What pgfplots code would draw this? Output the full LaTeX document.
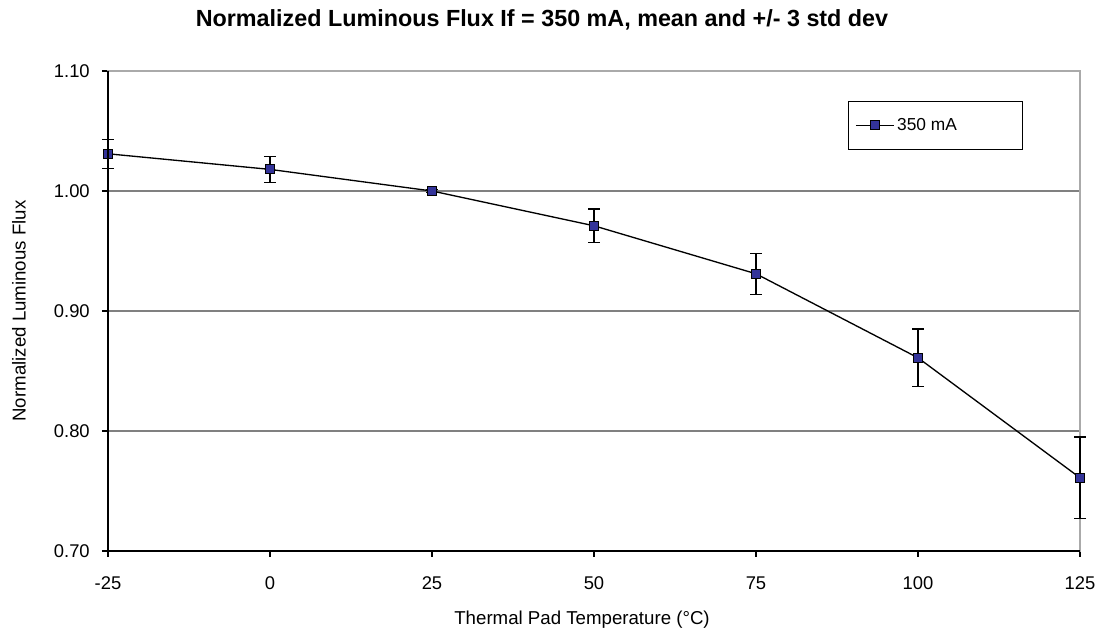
\documentclass[border=0pt]{standalone}
\usepackage{pgfplots}
\pgfplotsset{compat=1.18}
\usepackage{fontspec}
\setmainfont{Liberation Sans}
\definecolor{markblue}{RGB}{51,51,153}
\definecolor{gridgray}{RGB}{128,128,128}
\definecolor{framegray}{RGB}{170,170,170}
\begin{document}
\begin{tikzpicture}
\path[use as bounding box] (-81pt,-59.25pt) rectangle (744.75pt,413.25pt);
\begin{axis}[
  at={(0,0)}, anchor=south west,
  scale only axis,
  width=729pt, height=360pt,
  xmin=-25, xmax=125, ymin=0.70, ymax=1.10,
  xtick={-25,0,25,50,75,100,125},
  xticklabels={-25,0,25,50,75,100,125},
  ytick={0.70,0.80,0.90,1.00,1.10},
  yticklabel style={anchor=east, inner sep=0pt, xshift=-9pt,
    /pgf/number format/fixed, /pgf/number format/fixed zerofill,
    /pgf/number format/precision=2, /pgf/number format/assume math mode=true},
  xticklabel style={anchor=base, inner sep=0pt, yshift=-24.75pt},
  ymajorgrids, grid style={gridgray, line width=0.8pt},
  axis line style={framegray, line width=0.8pt},
  tick align=outside, xtick pos=bottom, ytick pos=left,
  major tick length=4.5pt,
  tick style={black, line width=0.8pt},
  font=\fontsize{14}{16}\selectfont,
  ticklabel style={font=\fontsize{13.8}{16}\selectfont},
  title={\bfseries\fontsize{17.5}{20}\selectfont Normalized Luminous Flux If = 350 mA, mean and +/- 3 std dev},
  title style={at={(axis description cs:0.4465,1.077)}, anchor=base, inner sep=0pt},
  xlabel={Thermal Pad Temperature (°C)},
  ylabel={Normalized Luminous Flux},
  xlabel style={at={(axis description cs:0.4877,-0.154)}, anchor=base, inner sep=0pt},
  ylabel style={at={(axis description cs:-0.0916,0.5)}, anchor=center, inner sep=0pt},
  legend style={at={(0.7613,0.9375)}, anchor=north west, draw=black, line width=0.8pt,
    inner xsep=5pt, inner ysep=10.6pt, font=\fontsize{13}{15}\selectfont, cells={anchor=west}},
  legend image code/.code={
    \draw[black, line width=1pt] (0pt,0pt) -- (28.5pt,0pt);
    \draw[black, fill=markblue, line width=0.7pt] (11pt,-3.4pt) rectangle (17.8pt,3.4pt);
  },
  after end axis/.code={
    \draw[black, line width=0.8pt] (rel axis cs:0,1) -- (rel axis cs:0,0) -- (rel axis cs:1,0);
  },
  clip=false,
]
\addplot[black, line width=1pt, mark=square*, mark size=3.4pt,
  mark options={fill=markblue, draw=black, line width=0.7pt},
  error bars/.cd, y dir=both, y explicit,
  error bar style={black, line width=1pt},
  error mark options={rotate=90, black, mark size=4.5pt, line width=1pt}]
  table[x=x, y=y, y error=e] {
x y e
-25 1.031 0.012
0 1.018 0.011
25 1.000 0.001
50 0.971 0.014
75 0.931 0.017
100 0.861 0.024
125 0.761 0.034
};
\addlegendentry{\makebox[87pt][l]{350 mA}}
\end{axis}
\end{tikzpicture}
\end{document}
